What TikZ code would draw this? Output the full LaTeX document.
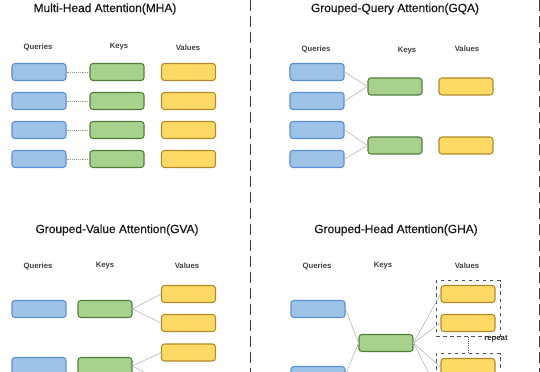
\documentclass[tikz,border=0pt]{standalone}
\usepackage{fontspec}
\setmainfont{Liberation Sans}
\newfontfamily\headfont[FakeBold=0.6]{Liberation Sans}
\usepackage{xcolor}
\usetikzlibrary{positioning,fit}

\definecolor{qfill}{HTML}{9DC3E6}
\definecolor{qline}{HTML}{5B8FD6}
\definecolor{kfill}{HTML}{A9D18E}
\definecolor{kline}{HTML}{507E3C}
\definecolor{vfill}{HTML}{FFD966}
\definecolor{vline}{HTML}{B08A2A}
\definecolor{grpline}{HTML}{44546A}

\tikzset{
    qbox/.style={draw=qline, fill=qfill, rounded corners=2.5pt, line width=0.9pt, minimum width=1.62cm, minimum height=0.51cm, inner sep=0pt},
    kbox/.style={qbox, draw=kline, fill=kfill},
    vbox/.style={qbox, draw=vline, fill=vfill},
    headtitle/.style={font=\headfont\fontsize{10.2}{12}\selectfont, text=black!90},
    collabel/.style={font=\fontsize{6.6}{8}\selectfont\bfseries, text=black!75},
    link/.style={draw=black!25, line width=0.6pt},
    dotlink/.style={draw=black!40, densely dotted, line width=0.6pt},
    sepline/.style={draw=black!75, dash pattern=on 3.3mm off 1.5mm, line width=1pt},
    grpbox/.style={draw=grpline, dashed, line width=0.8pt, inner sep=3.8pt}
}

\begin{document}
\begin{tikzpicture}[x=0.03cm, y=-0.03cm]
    \useasboundingbox (0,0) rectangle (540,372);

    % separators
    \coordinate (s1top) at (250.5,0);
    \coordinate (s1bot) at (250.5,372);
    \coordinate (s2top) at (539.5,0);
    \coordinate (s2bot) at (539.5,372);
    \draw[sepline] (s1top) -- (s1bot);
    \draw[sepline, line width=1.6pt] (s2top) -- (s2bot);

    % MHA
    \node[headtitle] (mhaT) at (105,9) {Multi-Head Attention(MHA)};
    \node[collabel] (mhaQ) at (38,47) {Queries};
    \node[collabel] (mhaK) at (119,47) {Keys};
    \node[collabel] (mhaV) at (188,48) {Values};
    \node[qbox] (mq1) at (39,72) {};
    \node[qbox] (mq2) at (39,101) {};
    \node[qbox] (mq3) at (39,130) {};
    \node[qbox] (mq4) at (39,159) {};
    \node[kbox] (mk1) at (117,72) {};
    \node[kbox] (mk2) at (117,101) {};
    \node[kbox] (mk3) at (117,130) {};
    \node[kbox] (mk4) at (117,159) {};
    \node[vbox] (mv1) at (188.5,72) {};
    \node[vbox] (mv2) at (188.5,101) {};
    \node[vbox] (mv3) at (188.5,130) {};
    \node[vbox] (mv4) at (188.5,159) {};
    \draw[dotlink] (mq1) -- (mk1);
    \draw[dotlink] (mq2) -- (mk2);
    \draw[dotlink] (mq3) -- (mk3);
    \draw[dotlink] (mq4) -- (mk4);

    % GQA
    \node[headtitle] (gqaT) at (395,9) {Grouped-Query Attention(GQA)};
    \node[collabel] (gqaQ) at (316,49) {Queries};
    \node[collabel] (gqaK) at (407,51) {Keys};
    \node[collabel] (gqaV) at (467,49) {Values};
    \node[qbox] (gq1) at (317,72) {};
    \node[qbox] (gq2) at (317,101) {};
    \node[qbox] (gq3) at (317,130) {};
    \node[qbox] (gq4) at (317,159) {};
    \node[kbox] (gk1) at (395,86.5) {};
    \node[kbox] (gk2) at (395,145.5) {};
    \node[vbox] (gv1) at (466,86.5) {};
    \node[vbox] (gv2) at (466,145.5) {};
    \draw[link] (gq1.east) -- (gk1.west);
    \draw[link] (gq2.east) -- (gk1.west);
    \draw[link] (gq3.east) -- (gk2.west);
    \draw[link] (gq4.east) -- (gk2.west);

    % GVA
    \node[headtitle] (gvaT) at (117,230) {Grouped-Value Attention(GVA)};
    \node[collabel] (gvaQ) at (38,266) {Queries};
    \node[collabel] (gvaK) at (105,266) {Keys};
    \node[collabel] (gvaV) at (187,266) {Values};
    \node[qbox] (vq1) at (39,309) {};
    \node[qbox] (vq2) at (39,366) {};
    \node[kbox] (vk1) at (105,309) {};
    \node[kbox] (vk2) at (105,366) {};
    \node[vbox] (vv1) at (188.5,294) {};
    \node[vbox] (vv2) at (188.5,323) {};
    \node[vbox] (vv3) at (188.5,352.5) {};
    \node[vbox] (vv4) at (188.5,381.5) {};
    \draw[link] (vk1.east) -- (vv1.west);
    \draw[link] (vk1.east) -- (vv2.west);
    \draw[link] (vk2.east) -- (vv3.west);
    \draw[link] (vk2.east) -- (vv4.west);

    % GHA
    \node[headtitle] (ghaT) at (396,230) {Grouped-Head Attention(GHA)};
    \node[collabel] (ghaQ) at (317,266) {Queries};
    \node[collabel] (ghaK) at (383,266) {Keys};
    \node[collabel] (ghaV) at (467,266) {Values};
    \node[qbox] (hq1) at (318,309) {};
    \node[qbox] (hq2) at (318,375) {};
    \node[kbox] (hk1) at (386,343) {};
    \node[vbox] (hv1) at (468,294) {};
    \node[vbox] (hv2) at (468,323) {};
    \node[vbox] (hv3) at (468,367) {};
    \node[vbox] (hv4) at (468,396) {};
    \node[grpbox, fit=(hv1)(hv2)] (g1) {};
    \node[grpbox, fit=(hv3)(hv4)] (g2) {};
    \draw[grpline, densely dotted, line width=0.8pt] (g1.south) -- (g2.north);
    \node[collabel, text=black!85] (rep) at (496,339) {repeat};
    \draw[link] (hq1.east) -- (hk1.west);
    \draw[link] (hq2.east) -- (hk1.west);
    \draw[link] (hk1.east) -- (hv1.west);
    \draw[link] (hk1.east) -- (hv2.west);
    \draw[link] (hk1.east) -- (hv3.west);
    \draw[link] (hk1.east) -- (hv4.west);
\end{tikzpicture}
\end{document}
